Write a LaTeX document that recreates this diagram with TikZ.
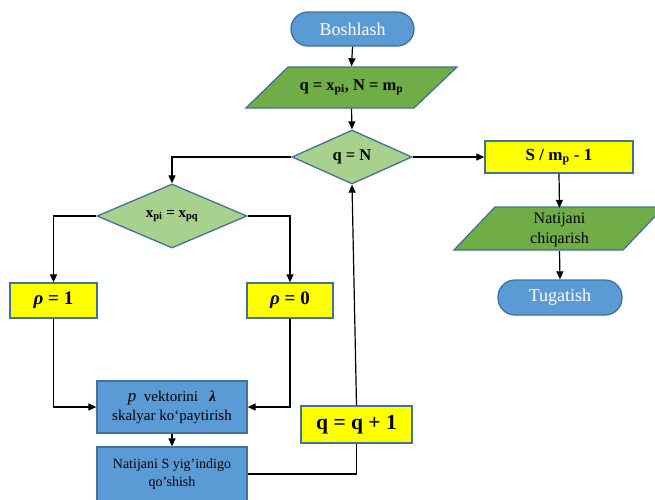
\documentclass[tikz,border=0pt]{standalone}
\usepackage{fontspec}
\setmainfont{Liberation Serif}
\usetikzlibrary{shapes.geometric,arrows.meta}
\definecolor{boxblue}{HTML}{5B9BD5}
\definecolor{edgeblue}{HTML}{41719C}
\definecolor{iogreen}{HTML}{70AD47}
\definecolor{testgreen}{HTML}{A9D18E}
\definecolor{setyellow}{HTML}{FFFF00}

\begin{document}
\begin{tikzpicture}[x=1pt,y=-1pt,
  base/.style={draw=edgeblue, line width=1.3pt, inner sep=0pt, align=center},
  terminal/.style={base, fill=boxblue, rounded corners=17pt, text=white,
                   font=\fontsize{18}{20}\selectfont},
  process/.style={base, fill=boxblue, font=\fontsize{15}{19}\selectfont},
  setbox/.style={base, fill=setyellow, font=\bfseries\fontsize{17}{19}\selectfont},
  test/.style={base, diamond, fill=testgreen, font=\bfseries\fontsize{16.5}{18}\selectfont},
  iotext/.style={inner sep=0pt, align=center, minimum height=42},
  iofill/.style={draw=edgeblue, line width=1.3pt, fill=iogreen, line join=miter},
  flow/.style={line width=1.2pt, black},
  arrow/.style={flow, -{Triangle[length=8pt,width=7pt]}},
]
\useasboundingbox (0,0) rectangle (655,499);
\clip (0,0) rectangle (655,499);

% start / end terminals
\node[terminal, minimum width=123, minimum height=34] (start) at (352.5,29) {Boshlash};
\node[terminal, minimum width=124, minimum height=35] (stop) at (560,297.5) {Tugatish};

% input parallelogram
\draw[iofill] (288,67) -- (457,67) -- (414,108) -- (246,108) -- cycle;
\node[iotext, font=\bfseries\fontsize{16.5}{19}\selectfont] (in1) at (351.5,87.5)
  {q = x\textsubscript{pi}, N = m\textsubscript{p}};

% main loop test
\node[test, minimum width=120, minimum height=54] (qN) at (352,157) {q = N};

% result branch
\node[setbox, minimum width=148, minimum height=32] (res) at (559,157)
  {S / m\textsubscript{p} - 1};
\draw[iofill] (495,207) -- (664,207) -- (623,250) -- (454,250) -- cycle;
\node[iotext, minimum height=43, font=\fontsize{16}{20}\selectfont] (out) at (559.5,229.5)
  {Natijani\\chiqarish};

% element comparison
\node[test, minimum width=150, minimum height=62, font=\bfseries\fontsize{15}{17}\selectfont]
  (xp) at (172,216) {x\textsubscript{pi} = x\textsubscript{pq}};
\node[setbox, minimum width=87, minimum height=35, font=\bfseries\fontsize{19}{21}\selectfont]
  (r1) at (53.5,300.5) {\textit{ρ} = 1};
\node[setbox, minimum width=86, minimum height=35, font=\bfseries\fontsize{19}{21}\selectfont]
  (r0) at (290,300.5) {\textit{ρ} = 0};

% vector operations
\node[process, minimum width=150, minimum height=52] (mul) at (172,407)
  {\textit{\fontsize{17}{18}\selectfont p}\ \ vektorini\ \ \ \textbf{\textit{λ}}\\skalyar ko‘paytirish};
\node[process, minimum width=150, minimum height=54, font=\fontsize{14}{18}\selectfont]
  (sum) at (172,474) {Natijani S yig’indigo\\qo’shish};

% counter increment
\node[setbox, minimum width=111, minimum height=37, font=\bfseries\fontsize{21.5}{23}\selectfont]
  (inc) at (356.5,424.5) {q = q + 1};

% connectors
\draw[arrow] (start.south) -- (in1.north);
\draw[arrow] (in1.south) -- (qN.north);
\draw[arrow] (qN.east) -- (res.west);
\draw[arrow] (res.south) -- (out.north);
\draw[arrow] (out.south) -- (stop.north);
\draw[arrow] (qN.west) -| (xp.north);
\draw[arrow] (xp.west) -| (r1.north);
\draw[arrow] (xp.east) -| (r0.north);
\draw[arrow] (r1.south) |- (mul.west);
\draw[arrow] (r0.south) |- (mul.east);
\draw[arrow] (mul.south) -- (sum.north);
\draw[flow] (sum.east) -| (inc.south);
\draw[arrow] (inc.north) -- (qN.south);
\end{tikzpicture}
\end{document}
